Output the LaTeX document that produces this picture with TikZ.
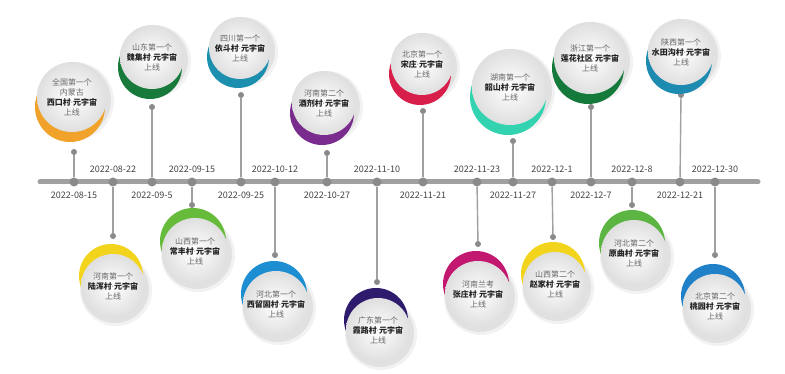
\documentclass[tikz,border=0pt]{standalone}
\usepackage{fontspec}
\setmainfont{Noto Sans CJK SC}
\newfontfamily\latinf{Noto Sans}
\newcommand\sep{{\latinf\mdseries\color{textgray}·}}
\definecolor{barc}{HTML}{A0A0A0}
\definecolor{dotc}{HTML}{8A8A8A}
\definecolor{textgray}{HTML}{666666}
\definecolor{textdark}{HTML}{222222}
\definecolor{cOrange}{HTML}{F0A22A}
\definecolor{cDGreen}{HTML}{187A3A}
\definecolor{cTeal}{HTML}{1C8FAE}
\definecolor{cPurple}{HTML}{7A2C8E}
\definecolor{cRed}{HTML}{D81E4A}
\definecolor{cAqua}{HTML}{33D3B2}
\definecolor{cZGreen}{HTML}{147A3C}
\definecolor{cSBlue}{HTML}{1D8AB0}
\definecolor{cYellow}{HTML}{F2D41C}
\definecolor{cLGreen}{HTML}{66BC3A}
\definecolor{cBlue}{HTML}{1D8ED2}
\definecolor{cIndigo}{HTML}{2E1B6E}
\definecolor{cMagenta}{HTML}{C3186F}
\definecolor{cGreen2}{HTML}{5CB542}
\definecolor{cBlue2}{HTML}{2080C8}
\tikzset{
  tdot/.style={circle, fill=dotc, minimum size=9pt, inner sep=0pt},
  sdot/.style={circle, fill=dotc, minimum size=6pt, inner sep=0pt},
  stem/.style={draw=barc, line width=1.4pt},
  disk/.style={circle, inner sep=0pt, shading=radial, inner color=white, outer color=gray!25},
  bubtext/.style={align=center, font=\fontsize{8}{10}\selectfont, text=textgray, inner sep=0pt},
  datelbl/.style={font=\fontsize{9}{10}\selectfont, text=textdark!85, inner sep=0pt},
}
\newcommand\bub[9]{%
  \fill[black,opacity=0.05] (#2+3,#3+4) circle (#4+4);
  \fill[black,opacity=0.07] (#2+2,#3+3) circle (#4+2);
  \fill[#5] (#2-2,#3#6) circle (#4);
  \node[disk, minimum size=2*#4 pt] (#1) at (#2,#3) {};
  \node[bubtext] (#1t) at (#1) {#7\\{\bfseries\color{textdark}#8}\\#9};
}
\begin{document}
\begin{tikzpicture}[x=1pt,y=-1pt]
\useasboundingbox (0,0) rectangle (785,374);
% timeline
\coordinate (L) at (40,182);
\coordinate (R) at (758,182);
\draw[barc, line width=5pt, line cap=round] (L) -- (R);
% timeline dots
\foreach \n/\x in {t1/74,t2/113,t3/152,t4/192,t5/241,t6/275,t7/327,t8/377,t9/423,t10/477,t11/513,t12/552,t13/591,t14/632,t15/680,t16/715}
  \node[tdot] (\n) at (\x,182) {};
% stem dots
\node[sdot] (s1) at (74,152) {};
\node[sdot] (s2) at (113,236) {};
\node[sdot] (s3) at (152,107) {};
\node[sdot] (s4) at (192,205) {};
\node[sdot] (s5) at (241,95) {};
\node[sdot] (s6) at (275,255) {};
\node[sdot] (s7) at (327,153) {};
\node[sdot] (s8) at (377,282) {};
\node[sdot] (s9) at (423,111) {};
\node[sdot] (s10) at (478,244) {};
\node[sdot] (s11) at (513,141) {};
\node[sdot] (s12) at (553,237) {};
\node[sdot] (s13) at (591,107) {};
\node[sdot] (s14) at (632,205) {};
\node[sdot] (s15) at (681,95) {};
\node[sdot] (s16) at (715,255) {};
\foreach \i in {1,...,16} \draw[stem] (t\i) -- (s\i);
% date labels
\node[datelbl] (d1) at (74,195) {2022-08-15};
\node[datelbl] (d2) at (113,169) {2022-08-22};
\node[datelbl] (d3) at (152,195) {2022-09-5};
\node[datelbl] (d4) at (192,169) {2022-09-15};
\node[datelbl] (d5) at (241,195) {2022-09-25};
\node[datelbl] (d6) at (275,169) {2022-10-12};
\node[datelbl] (d7) at (327,195) {2022-10-27};
\node[datelbl] (d8) at (377,169) {2022-11-10};
\node[datelbl] (d9) at (423,195) {2022-11-21};
\node[datelbl] (d10) at (477,169) {2022-11-23};
\node[datelbl] (d11) at (513,195) {2022-11-27};
\node[datelbl] (d12) at (552,169) {2022-12-1};
\node[datelbl] (d13) at (591,195) {2022-12-7};
\node[datelbl] (d14) at (632,169) {2022-12-8};
\node[datelbl] (d15) at (680,195) {2022-12-21};
\node[datelbl] (d16) at (715,169) {2022-12-30};
% bubbles above the line
\bub{b1}{72}{97}{35}{cOrange}{+10}{全国第一个\\内蒙古}{西口村\sep 元宇宙}{上线}
\bub{b3}{152}{57}{32}{cDGreen}{+10}{山东第一个}{魏集村\sep 元宇宙}{上线}
\bub{b5}{240}{48}{31}{cTeal}{+9}{四川第一个}{依斗村\sep 元宇宙}{上线}
\bub{b7}{324}{103}{32}{cPurple}{+10}{河南第二个}{酒剂村\sep 元宇宙}{上线}
\bub{b9}{422}{64}{31}{cRed}{+10}{北京第一个}{宋庄\sep 元宇宙}{上线}
\bub{b11}{510}{87}{38}{cAqua}{+10}{湖南第一个}{韶山村\sep 元宇宙}{上线}
\bub{b13}{590}{58}{36}{cZGreen}{+10}{浙江第一个}{莲花社区\sep 元宇宙}{上线}
\bub{b15}{681}{52}{33}{cSBlue}{+9}{陕西第一个}{水田沟村\sep 元宇宙}{上线}
% bubbles below the line
\bub{b2}{113}{286}{32}{cYellow}{-10}{河南第一个}{陆浑村\sep 元宇宙}{上线}
\bub{b4}{195}{251}{33}{cLGreen}{-10}{山西第一个}{常丰村\sep 元宇宙}{上线}
\bub{b6}{276}{304}{33}{cBlue}{-10}{河北第一个}{西留固村\sep 元宇宙}{上线}
\bub{b8}{378}{330}{32}{cIndigo}{-10}{广东第一个}{霞路村\sep 元宇宙}{上线}
\bub{b10}{478}{294}{33}{cMagenta}{-10}{河南兰考}{张庄村\sep 元宇宙}{上线}
\bub{b12}{555}{284}{32}{cYellow}{-10}{山西第二个}{赵家村\sep 元宇宙}{上线}
\bub{b14}{634}{253}{33}{cGreen2}{-10}{河北第二个}{原曲村\sep 元宇宙}{上线}
\bub{b16}{715}{306}{32}{cBlue2}{-10}{北京第二个}{桃园村\sep 元宇宙}{上线}
\end{tikzpicture}
\end{document}
